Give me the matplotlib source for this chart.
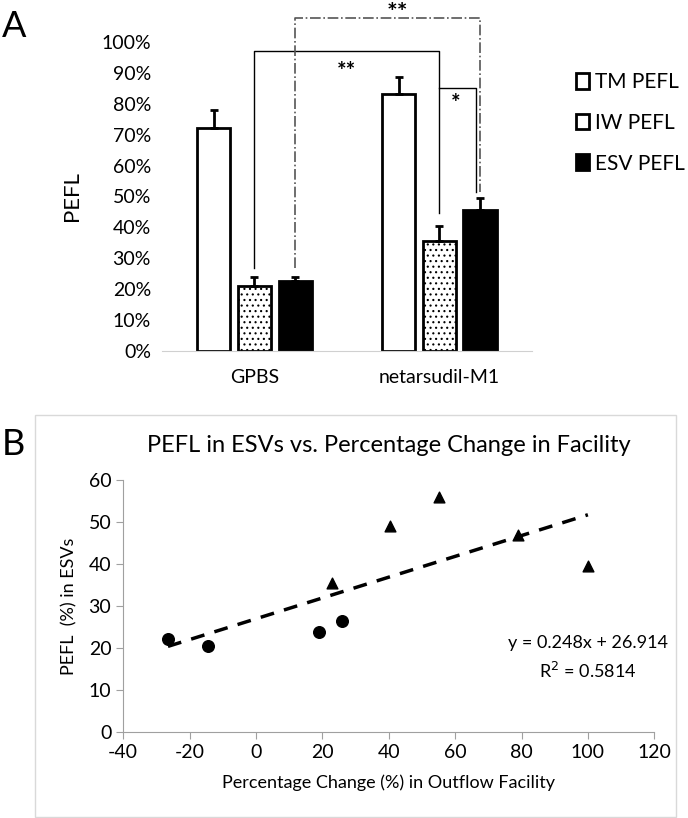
import numpy as np
import matplotlib
matplotlib.use("Agg")
import matplotlib.pyplot as plt
from matplotlib.patches import Rectangle

plt.rcParams['font.family'] = ['Lato', 'DejaVu Sans']
plt.rcParams['hatch.linewidth'] = 0.8
plt.rcParams['axes.unicode_minus'] = False

# panel A data
groups = ['GPBS', 'netarsudil-M1']
series = ['TM PEFL', 'IW PEFL', 'ESV PEFL']
tm_pefl = [0.72, 0.83]
iw_pefl = [0.21, 0.355]
esv_pefl = [0.225, 0.455]
tm_err = [0.06, 0.055]
iw_err = [0.03, 0.05]
esv_err = [0.015, 0.04]

# panel B data
circ_x = [-26.5, -14.5, 19, 26]
circ_y = [22, 20.5, 23.8, 26.3]
tri_x = [23, 40.5, 55, 79, 100]
tri_y = [35.5, 49, 56, 47, 39.5]
slope, intercept = 0.248, 26.914
r2 = 0.5814

fig = plt.figure(figsize=(6.88, 8.18), dpi=100)

# ---------- A ----------
ax = fig.add_axes([0.2355, 0.571, 0.5375, 0.3777])
x = np.arange(len(groups))
w = 0.18
step = 0.22
vals = [tm_pefl, iw_pefl, esv_pefl]
errs = [tm_err, iw_err, esv_err]
faces = ['white', 'white', 'black']
hatches = [None, '...', None]
for i in range(3):
    pos = x + (i - 1) * step
    ax.bar(pos, vals[i], w, color=faces[i], edgecolor='black', linewidth=2,
           hatch=hatches[i], zorder=2)
    ax.errorbar(pos, vals[i], yerr=[np.zeros(2), errs[i]], fmt='none',
                ecolor='black', elinewidth=2, capsize=3, capthick=2, zorder=3)

ax.set_xlim(-0.5, 1.5)
ax.set_ylim(0, 1.0)
ticks = np.arange(0, 1.01, 0.1)
ax.set_yticks(ticks)
ax.set_yticklabels([f'{int(round(v*100))}%' for v in ticks], fontsize=14)
ax.set_xticks(x)
ax.set_xticklabels(groups, fontsize=14)
ax.tick_params(length=0, pad=8)
ax.tick_params(axis='x', pad=13)
for s in ['top', 'right', 'left']:
    ax.spines[s].set_visible(False)
ax.spines['bottom'].set_color('#d0d0d0')
ax.set_ylabel('PEFL', fontsize=16, labelpad=14)

# significance brackets
xl = x[0]
xr = x[1]
ax.plot([xl, xl, xr, xr], [0.27, 0.97, 0.97, 0.445], color='black', lw=1, clip_on=False)
ax.text((xl + xr) / 2 - 0.005, 0.905, '**', ha='center', va='center', fontsize=16, fontweight='bold')
ax.plot([xl + step, xl + step, xr + step, xr + step], [0.27, 1.076, 1.076, 0.515],
        color='#555555', lw=1.2, ls='-.', clip_on=False)
ax.text((xl + xr) / 2 + step + 0.055, 1.092, '**', ha='center', va='center', fontsize=18,
        fontweight='bold', clip_on=False)
ax.plot([xr, xr + 0.2, xr + 0.2], [0.852, 0.852, 0.515], color='black', lw=1, clip_on=False)
ax.text(xr + 0.09, 0.80, '*', ha='center', va='center', fontsize=16, fontweight='bold')

handles = [Rectangle((0, 0), 1, 1, facecolor=faces[i], edgecolor='black', lw=2)
           for i in range(3)]
fig.legend(handles, series, loc='upper left', bbox_to_anchor=(0.81, 0.935), frameon=False,
           fontsize=15, handlelength=0.6, handleheight=0.8, handletextpad=0.3, labelspacing=1.0)

fig.text(0.003, 0.968, 'A', fontsize=26, ha='left', va='center')

# ---------- B ----------
fig.patches.append(Rectangle((35 / 688, 1 / 818), 641 / 688, 402 / 818, transform=fig.transFigure,
                             facecolor='none', edgecolor='#d9d9d9', lw=1))
fig.text(0.003, 0.456, 'B', fontsize=26, ha='left', va='center')

bx = fig.add_axes([0.179, 0.1055, 0.772, 0.3077])
bx.scatter(circ_x, circ_y, marker='o', s=70, color='black', zorder=3)
bx.scatter(tri_x, tri_y, marker='^', s=60, color='black', zorder=3)
xs = np.array([min(circ_x + tri_x), max(circ_x + tri_x)])
bx.plot(xs, slope * xs + intercept, color='black', lw=2.5, ls=(0, (4, 3)), zorder=2)
bx.set_xlim(-40, 120)
bx.set_ylim(0, 60)
bx.set_xticks(np.arange(-40, 121, 20))
bx.set_yticks(np.arange(0, 61, 10))
bx.tick_params(labelsize=14, color='#a0a0a0', length=5)
for s in ['top', 'right']:
    bx.spines[s].set_visible(False)
for s in ['left', 'bottom']:
    bx.spines[s].set_color('#a0a0a0')
bx.set_xlabel('Percentage Change (%) in Outflow Facility', fontsize=13, labelpad=10)
bx.set_ylabel('PEFL  (%) in ESVs', fontsize=13, labelpad=8)
bx.set_title('PEFL in ESVs vs. Percentage Change in Facility', fontsize=17, pad=20)
bx.text(124, 17.5, f'y = {slope}x + {intercept}\nR$^2$ = {r2}', ha='right', va='center',
        fontsize=13, multialignment='center', linespacing=1.6, clip_on=False)

fig.savefig('out.png', dpi=100)
